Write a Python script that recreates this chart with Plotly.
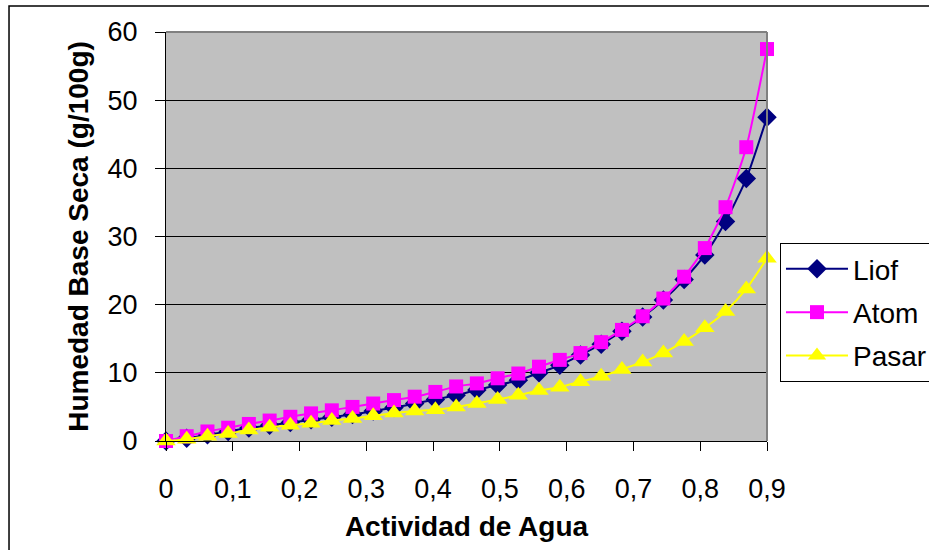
import plotly.graph_objects as go

aw = [round(i * 0.9 / 29, 4) for i in range(30)]

liof = [0.0, 0.4, 0.9, 1.4, 1.9, 2.3, 2.7, 3.1, 3.5, 3.9, 4.4, 4.9, 5.5, 6.1, 6.7,
        7.5, 8.2, 8.9, 10.0, 11.1, 12.6, 14.2, 16.1, 18.2, 20.7, 23.7, 27.3, 32.2, 38.5, 47.5]
atom = [0.0, 0.7, 1.4, 1.95, 2.5, 3.0, 3.55, 4.05, 4.5, 5.0, 5.5, 6.0, 6.5, 7.2, 8.0,
        8.45, 9.2, 9.9, 10.9, 11.9, 12.9, 14.5, 16.3, 18.3, 20.9, 24.1, 28.3, 34.3, 43.1, 57.5]
pasar = [0.0, 0.25, 0.7, 1.1, 1.6, 2.0, 2.3, 2.6, 3.0, 3.3, 3.7, 4.1, 4.4, 4.6, 5.0,
         5.5, 6.1, 6.7, 7.4, 7.9, 8.7, 9.5, 10.5, 11.6, 12.9, 14.6, 16.6, 19.0, 22.3, 26.8]

series = [
    ("Liof", liof, "#000080", "diamond", 15),
    ("Atom", atom, "#FF00FF", "square", 14),
    ("Pasar", pasar, "#FFFF00", "triangle-up", 17),
]

FONT = "Liberation Sans, Arial, sans-serif"

fig = go.Figure()
for name, ys, col, sym, sz in series:
    fig.add_trace(go.Scatter(
        x=aw, y=ys, name=name, mode="lines+markers",
        line=dict(color=col, width=2, shape="spline", smoothing=0.6),
        marker=dict(color=col, symbol=sym, size=sz, line=dict(width=0)),
        cliponaxis=False, legendgroup=name,
    ))

fig.update_layout(
    width=929, height=550,
    margin=dict(l=166, r=162, t=32, b=109, autoexpand=False),
    paper_bgcolor="white", plot_bgcolor="#C0C0C0",
    font=dict(family=FONT, size=27, color="black"),
    separators=",.",
    showlegend=True,
    legend=dict(
        x=1.0216, y=0.484, xanchor="left", yanchor="top",
        bordercolor="black", borderwidth=1, bgcolor="white",
        font=dict(size=28, family=FONT), tracegroupgap=4,
        itemwidth=62,
    ),
    xaxis=dict(
        range=[0, 0.9], dtick=0.1, tick0=0, showgrid=False, zeroline=False,
        showline=True, linecolor="black", linewidth=1,
        ticks="outside", ticklen=9, tickcolor="black",
        ticklabelstandoff=15,
        tickfont=dict(size=27, family=FONT),
        title=dict(text="<b>Actividad de Agua</b>", font=dict(size=28, family=FONT), standoff=12),
    ),
    yaxis=dict(
        range=[0, 60], dtick=10, showgrid=True, gridcolor="black", gridwidth=1,
        zeroline=False, showline=True, linecolor="black", linewidth=1,
        ticks="outside", ticklen=10, tickcolor="black",
        ticklabelstandoff=12,
        tickfont=dict(size=27, family=FONT),
        title=dict(text="<b>Humedad Base Seca (g/100g)</b>", font=dict(size=28, family=FONT), standoff=10),
    ),
    shapes=[
        dict(type="line", xref="paper", yref="paper", x0=0, x1=1, y0=1, y1=1,
             line=dict(color="#808080", width=2)),
        dict(type="line", xref="paper", yref="paper", x0=1, x1=1, y0=0, y1=1,
             line=dict(color="#808080", width=2)),
        dict(type="rect", xref="paper", yref="paper", x0=-0.2612, x1=1.2795,
             y0=-0.2787, y1=1.0636, line=dict(color="black", width=1.5)),
    ],
)

fig.write_html("out.html")
